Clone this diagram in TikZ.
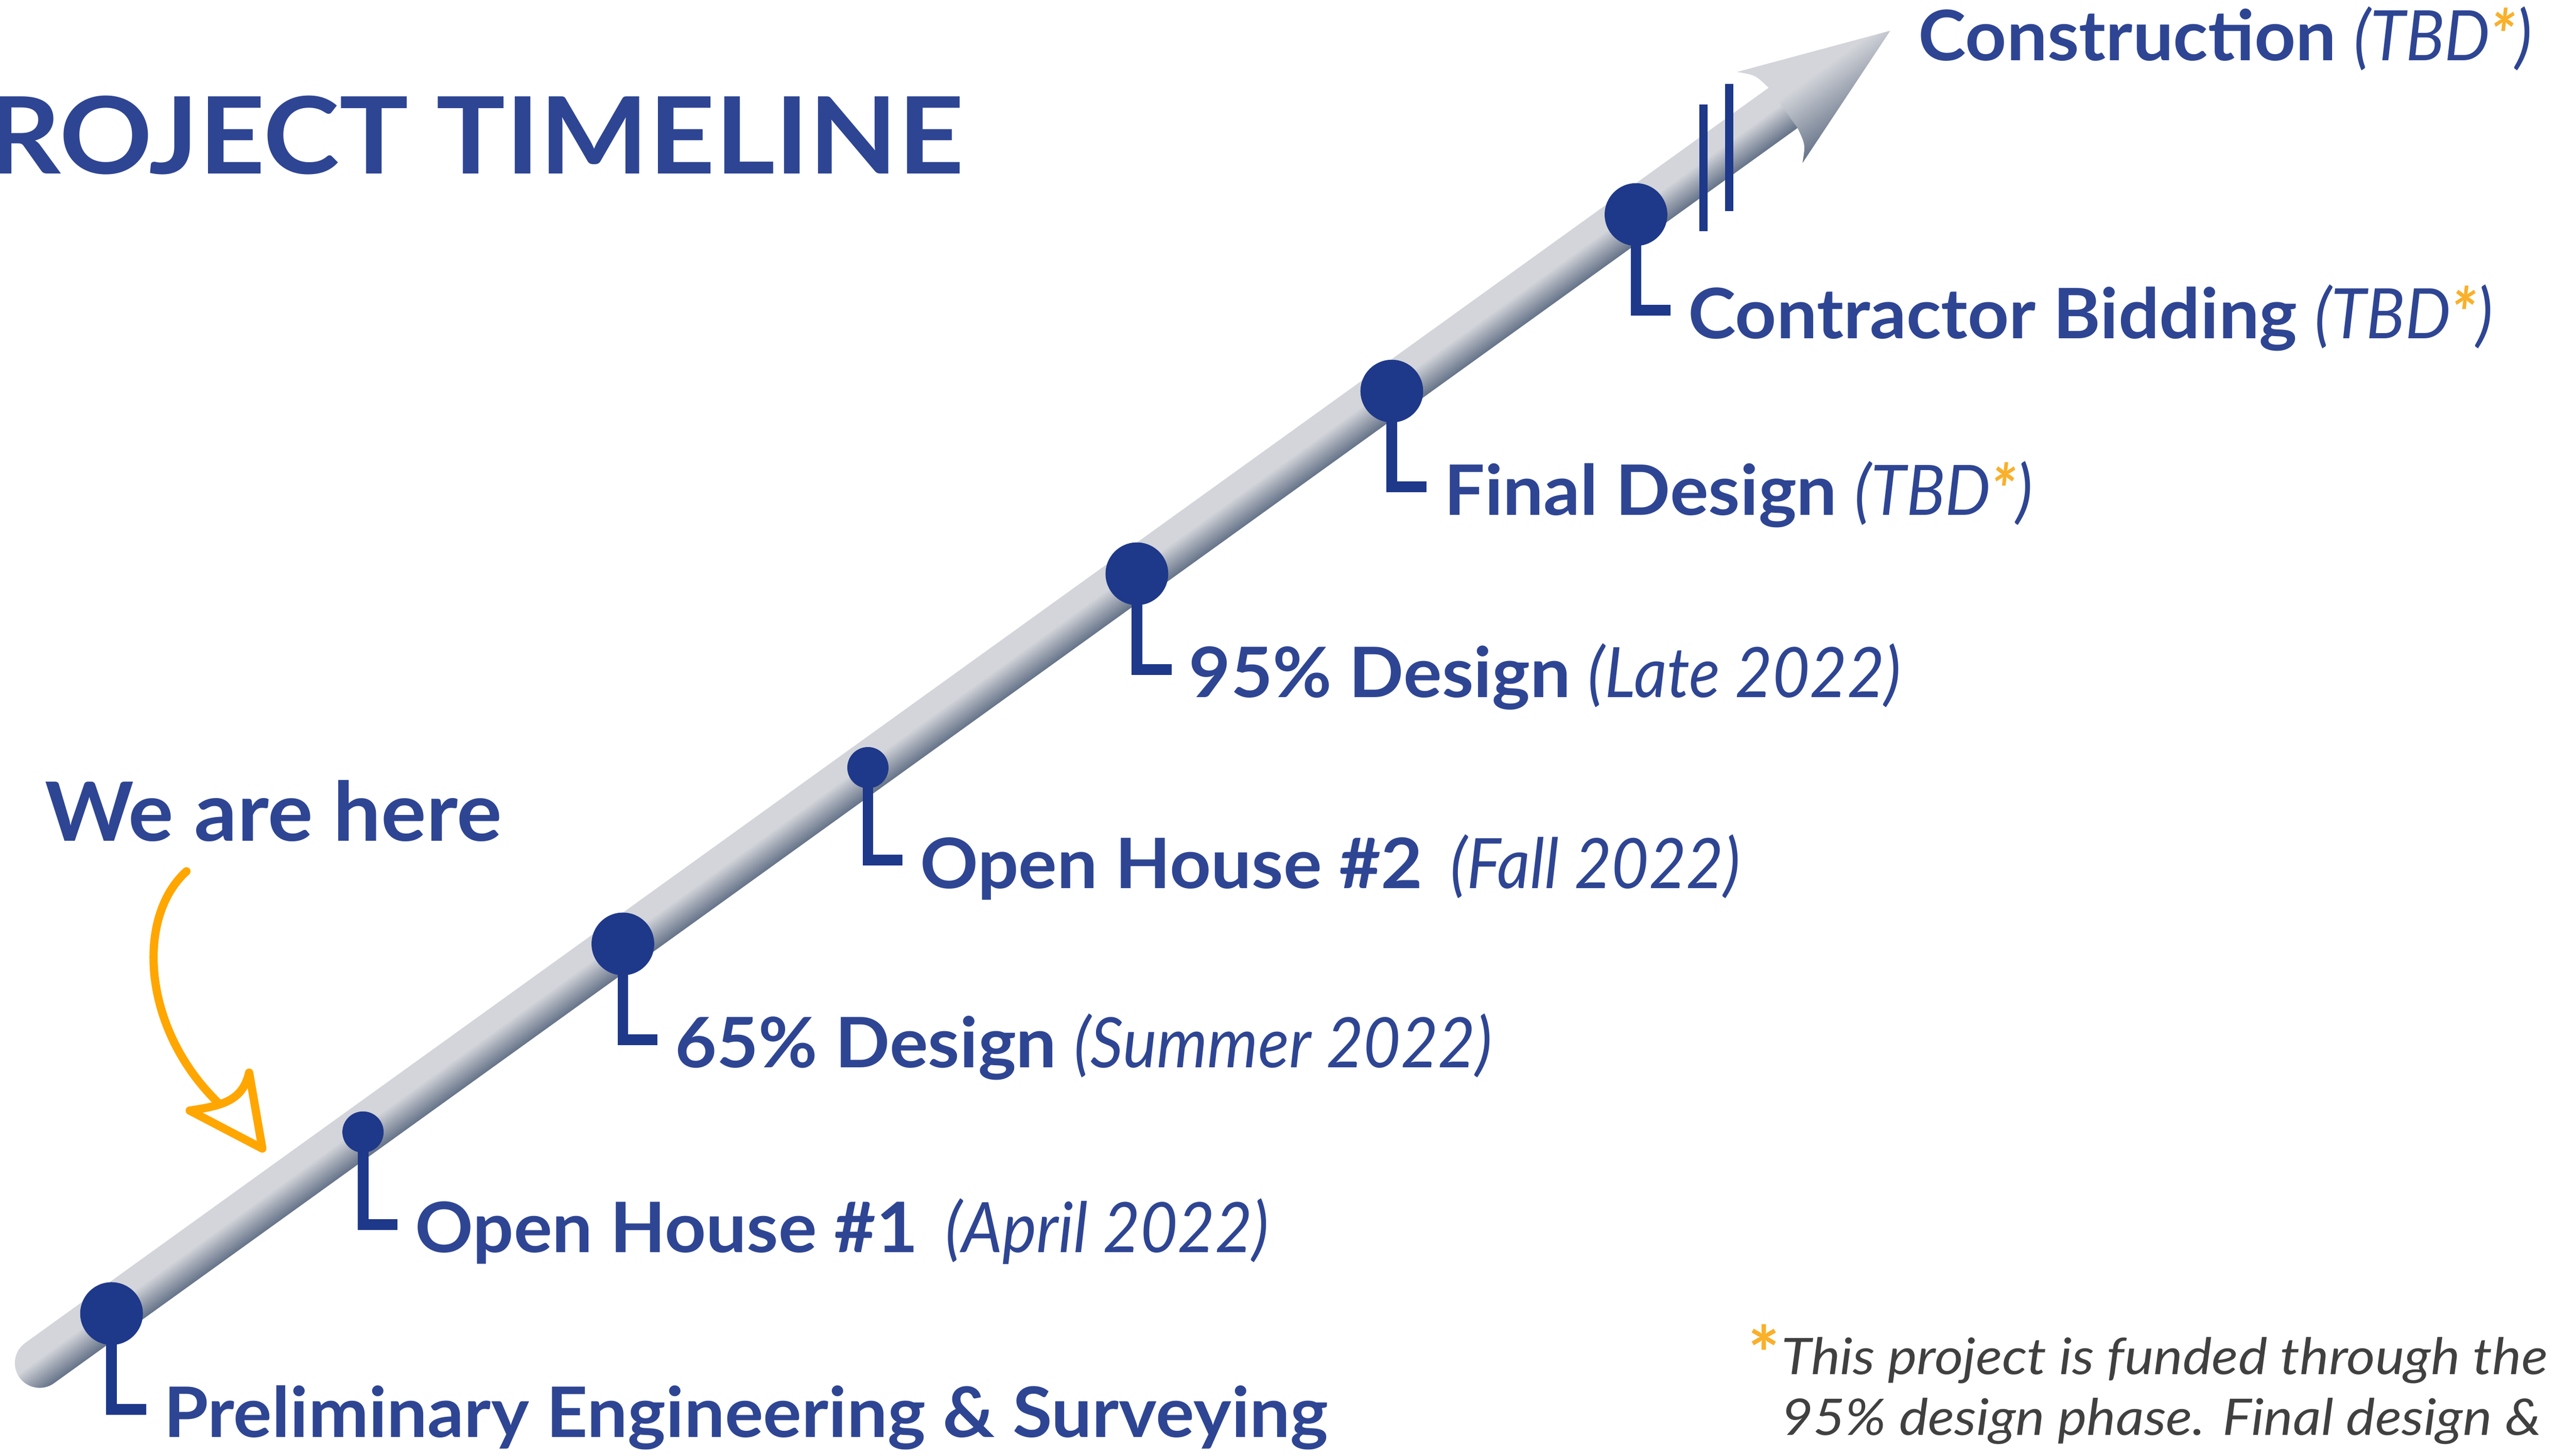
\documentclass[tikz,border=0pt]{standalone}
\usepackage{fontspec}
\setmainfont{Lato}
\newfontfamily\lblfont{Lato}[FakeStretch=1.035]
\newfontfamily\datefont{Lato}[FakeStretch=0.925]
\newfontfamily\titlefont{Lato}[FakeStretch=1.08]
\newfontfamily\notefont{Lato}[FakeStretch=1.09]
\usetikzlibrary{calc}
\definecolor{tlblue}{RGB}{46,69,147}
\definecolor{tlnavy}{RGB}{30,56,138}
\definecolor{tlorange}{RGB}{255,166,0}
\definecolor{tlstar}{RGB}{249,176,42}
\definecolor{tlgray}{RGB}{64,64,64}
\definecolor{shaftlight}{RGB}{211,213,218}
\definecolor{shaftmid}{RGB}{150,158,172}
\definecolor{shaftdark}{RGB}{100,114,136}
\pgfdeclareverticalshading{shaftshade}{100bp}{color(0bp)=(shaftdark); color(25bp)=(shaftdark); color(38bp)=(shaftmid); color(54bp)=(shaftlight); color(100bp)=(shaftlight)}
\newcommand{\tbd}{(TBD\textcolor{tlstar}{\bfseries*})}
\begin{document}
\begin{tikzpicture}[
	big/.style={circle, fill=tlnavy, minimum size=0.38cm, inner sep=0},
	small/.style={big, minimum size=0.25cm},
	stem/.style={draw=tlnavy, line width=0.065cm},
	lbl/.style={anchor=west, inner sep=0, text height=0.34cm, text depth=0cm, text=tlblue, font=\fontsize{12}{14}\lblfont\bfseries},
	note/.style={anchor=base west, inner sep=0, text=tlgray, font=\fontsize{8.7}{10}\notefont\itshape},
	herearrow/.style={draw=tlorange, line width=0.05cm, line cap=round, line join=round}
	]
	\useasboundingbox (0,0) rectangle (15.60,8.82);
	\clip (0,0) rectangle (15.60,8.82);
	
	% shaft with its head
	\begin{scope}[transform canvas={shift={(0.24,0.56)},rotate=35.75}]
		\shade[shading=shaftshade] (13.05,-0.15) -- (0,-0.15) arc[start angle=270,end angle=90,radius=0.15] -- (13.05,0.15) -- cycle;
		\shade[shading=shaftshade] (13.02,0.15) .. controls (13.0,0.26) .. (12.92,0.34) -- (13.82,0) -- (12.92,-0.34) .. controls (13.0,-0.26) .. (13.02,-0.15) -- cycle;
	\end{scope}
	\draw[tlnavy, line width=0.05cm] (10.325,8.186) -- (10.325,7.42) (10.48,8.31) -- (10.48,7.54);
	
	% title
	\node (title) at (5.85,7.766) [anchor=base east, inner sep=0, text=tlblue, font=\fontsize{18.4}{20}\titlefont\bfseries] {PROJECT TIMELINE};
	
	% milestones
	\node (a) at (0.676,0.86) [big] {};
	\node (b) at (2.20,1.96) [small] {};
	\node (c) at (3.775,3.10) [big] {};
	\node (d) at (5.26,4.168) [small] {};
	\node (e) at (6.89,5.343) [big] {};
	\node (f) at (8.435,6.45) [big] {};
	\node (g) at (9.915,7.52) [big] {};
	
	\node (la) at ($(a)+(0.31,-0.58)$) [lbl] {Preliminary Engineering \& Surveying};
	\node (lb) at ($(b)+(0.31,-0.56)$) [lbl] {Open House \#1\hspace{0.06cm} {\datefont\itshape\mdseries (April 2022)}};
	\node (lc) at ($(c)+(0.31,-0.58)$) [lbl] {65\% Design {\datefont\itshape\mdseries (Summer 2022)}};
	\node (ld) at ($(d)+(0.31,-0.56)$) [lbl] {Open House \#2\hspace{0.06cm} {\datefont\itshape\mdseries (Fall 2022)}};
	\node (le) at ($(e)+(0.31,-0.58)$) [lbl] {95\% Design {\datefont\itshape\mdseries (Late 2022)}};
	\node (lf) at ($(f)+(0.31,-0.58)$) [lbl] {Final Design {\datefont\itshape\mdseries \tbd}};
	\node (lg) at ($(g)+(0.31,-0.58)$) [lbl] {Contractor Bidding {\datefont\itshape\mdseries \tbd}};
	\node (lh) at (11.62,8.623) [lbl] {Construction {\datefont\itshape\mdseries \tbd}};
	
	\draw[stem] (a.center) |- ([xshift=-0.1cm]la.west);
	\draw[stem] (b.center) |- ([xshift=-0.1cm]lb.west);
	\draw[stem] (c.center) |- ([xshift=-0.1cm]lc.west);
	\draw[stem] (d.center) |- ([xshift=-0.1cm]ld.west);
	\draw[stem] (e.center) |- ([xshift=-0.1cm]le.west);
	\draw[stem] (f.center) |- ([xshift=-0.1cm]lf.west);
	\draw[stem] (g.center) |- ([xshift=-0.1cm]lg.west);
	
	% we are here
	\node (here) at (0.265,3.725) [anchor=base west, inner sep=0, text=tlblue, font=\fontsize{14.1}{16}\lblfont\bfseries] {We are here};
	\coordinate (s) at (1.13,3.54);
	\coordinate (s2) at (1.33,2.13);
	\coordinate (tip) at (1.59,1.86);
	\coordinate (lbarb) at (1.15,2.09);
	\coordinate (tbarb) at (1.51,2.32);
	\draw[herearrow] (s) .. controls (0.82,3.26) and (0.86,2.58) .. (s2);
	\draw[herearrow] (tbarb) -- (tip) -- (lbarb) .. controls (1.35,2.12) and (1.47,2.15) .. (tbarb);
	
	% footnote
	\node (star) at (10.69,0.62) [inner sep=0, text=tlstar, font=\fontsize{13}{13}\selectfont\bfseries] {*};
	\node (n1) at (10.79,0.49) [note] {This project is funded through the};
	\node (n2) at (10.79,0.124) [note] {95\% design phase. Final design \&};
\end{tikzpicture}
\end{document}
